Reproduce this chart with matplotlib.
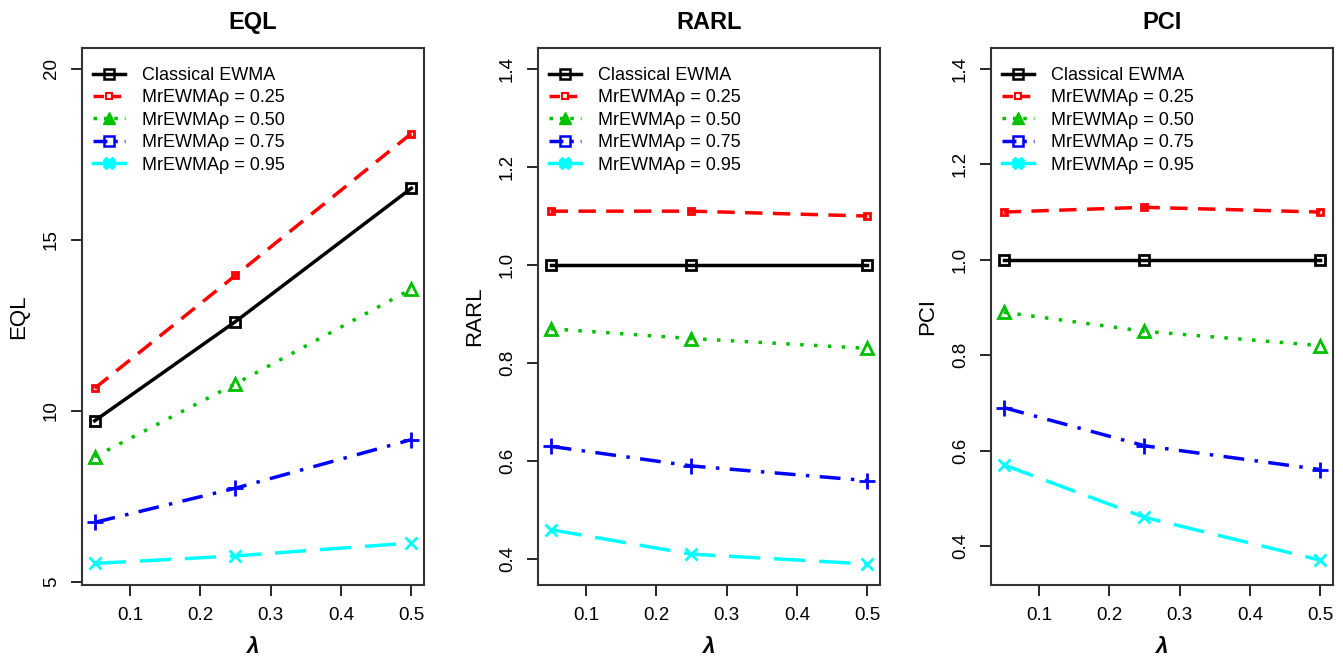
import matplotlib
matplotlib.use("Agg")
import matplotlib.pyplot as plt
from matplotlib.lines import Line2D

plt.rcParams['font.family'] = ['Liberation Sans', 'DejaVu Sans']

## data
lam = [0.05, 0.25, 0.5]

eql_classical = [9.7, 12.6, 16.5]
eql_r25 = [10.65, 13.95, 18.1]
eql_r50 = [8.65, 10.78, 13.55]
eql_r75 = [6.73, 7.73, 9.15]
eql_r95 = [5.53, 5.75, 6.13]

rarl_classical = [1.0, 1.0, 1.0]
rarl_r25 = [1.11, 1.11, 1.10]
rarl_r50 = [0.87, 0.85, 0.83]
rarl_r75 = [0.63, 0.59, 0.56]
rarl_r95 = [0.46, 0.41, 0.39]

pci_classical = [1.0, 1.0, 1.0]
pci_r25 = [1.10, 1.11, 1.10]
pci_r50 = [0.89, 0.85, 0.82]
pci_r75 = [0.69, 0.61, 0.56]
pci_r95 = [0.57, 0.46, 0.37]

labels = ['Classical EWMA', 'MrEWMA\u03c1 = 0.25', 'MrEWMA\u03c1 = 0.50',
          'MrEWMA\u03c1 = 0.75', 'MrEWMA\u03c1 = 0.95']

## styles
cols = ['black', '#FF0000', '#00C000', '#0000FF', '#00FFFF']
lss = ['-', (0, (5, 3)), (0, (1, 3)), (0, (6, 3, 1, 3)), (0, (9, 4))]
mks = ['s', 's', '^', '+', 'x']
msz = [7, 5, 8, 11, 8]

panels = [
    ('EQL', [eql_classical, eql_r25, eql_r50, eql_r75, eql_r95],
     (4.9, 20.6), [5, 10, 15, 20], ['5', '10', '15', '20']),
    ('RARL', [rarl_classical, rarl_r25, rarl_r50, rarl_r75, rarl_r95],
     (0.347, 1.443), [0.4, 0.6, 0.8, 1.0, 1.2, 1.4], ['0.4', '0.6', '0.8', '1.0', '1.2', '1.4']),
    ('PCI', [pci_classical, pci_r25, pci_r50, pci_r75, pci_r95],
     (0.318, 1.444), [0.4, 0.6, 0.8, 1.0, 1.2, 1.4], ['0.4', '0.6', '0.8', '1.0', '1.2', '1.4']),
]

W, H = 1343, 663
fig = plt.figure(figsize=(W / 100, H / 100), dpi=100)
lefts = [82, 538, 991]

# legend handles (R-style legend symbols)
handles = [
    Line2D([], [], color=cols[0], ls='-', lw=2.5, marker='s', ms=7, mfc='none', mew=1.8),
    Line2D([], [], color=cols[1], ls=(0, (3, 2)), lw=2.5, marker='s', ms=5, mfc='none', mew=1.5),
    Line2D([], [], color=cols[2], ls=(0, (1, 2)), lw=2.5, marker='^', ms=8),
    Line2D([], [], color=cols[3], ls=(0, (4, 2, 1, 2)), lw=2.5, marker='s', ms=7, mfc='none', mew=1.8),
    Line2D([], [], color=cols[4], ls='-', lw=2.5, marker='X', ms=8),
]

for k, (name, series, ylim, yt, ytl) in enumerate(panels):
    ax = fig.add_axes([lefts[k] / W, 1 - 585 / H, 342 / W, 537 / H])
    for i in range(5):
        ax.plot(lam, series[i], color=cols[i], ls=lss[i], lw=2.5,
                marker=mks[i], ms=msz[i], mfc='none', mew=2)
    ax.set_xlim(0.032, 0.518)
    ax.set_ylim(*ylim)
    ax.set_xticks([0.1, 0.2, 0.3, 0.4, 0.5])
    ax.set_xticklabels(['0.1', '0.2', '0.3', '0.4', '0.5'])
    ax.set_yticks(yt)
    ax.set_yticklabels(ytl, rotation=90, va='center')
    ax.tick_params(axis='both', direction='out', length=8, width=1.2, labelsize=13.5, pad=8)
    for s in ax.spines.values():
        s.set_linewidth(1.5)
        s.set_color('#333333')
    ax.set_title(name, fontsize=17, fontweight='bold', pad=14)
    ax.set_ylabel(name, fontsize=16, labelpad=10)
    ax.set_xlabel('\u03bb', fontsize=16, fontweight='bold', style='italic', labelpad=9)
    ax.legend(handles, labels, loc='upper left', frameon=False, fontsize=13,
              handlelength=1.8, handletextpad=0.95, labelspacing=0.3,
              borderaxespad=0.2, bbox_to_anchor=(0.0, 0.985))

fig.savefig('out.png', dpi=100)
